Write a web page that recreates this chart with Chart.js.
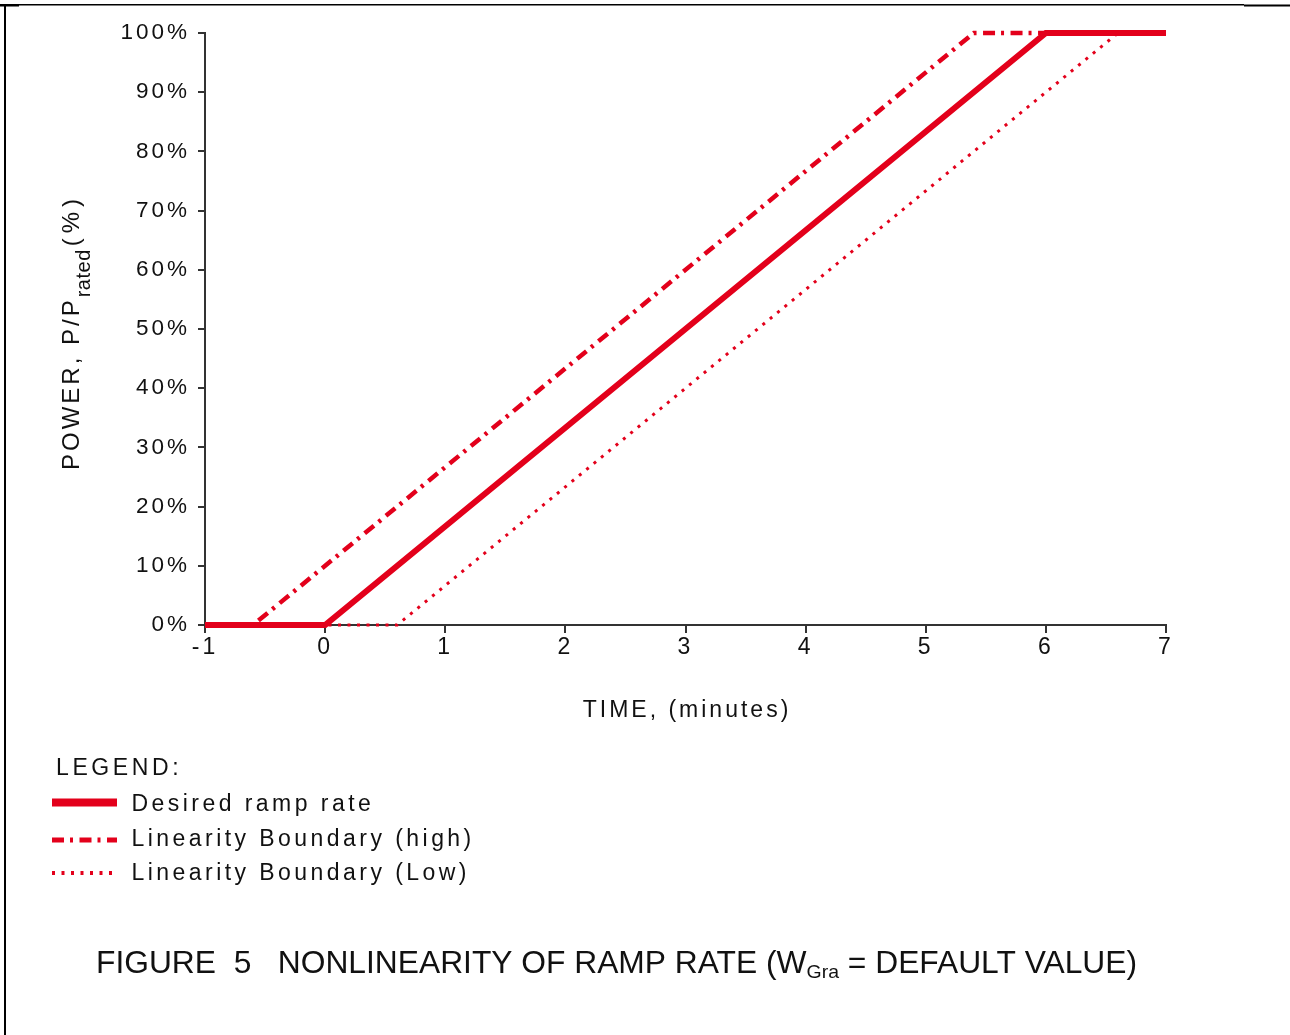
<!DOCTYPE html>
<html>
<head>
<meta charset="utf-8">
<script src="https://cdn.jsdelivr.net/npm/chart.js@4/dist/chart.umd.min.js"></script>
<style>
  html, body { margin: 0; padding: 0; background: #ffffff; }
  #wrap { position: relative; width: 1290px; height: 1035px; }
  canvas { display: block; }
</style>
</head>
<body>
<div id="wrap"><canvas id="ramp" width="1290" height="1035"></canvas></div>
<script>
// Time axis (minutes) and power axis (% of rated) tick values
const timeTicks = [-1, 0, 1, 2, 3, 4, 5, 6, 7];
const powerTicks = [0, 10, 20, 30, 40, 50, 60, 70, 80, 90, 100];

// Desired ramp: 0 % until t = 0, full power after 6 minutes
const desiredTime  = [-1, 0, 6, 7];
const desiredPower = [0, 0, 100, 100];

// Upper linearity boundary (ramp leads by 0.6 min)
const highTime  = [-1, -0.6, 5.4, 7];
const highPower = [0, 0, 100, 100];

// Lower linearity boundary (ramp lags by 0.6 min)
const lowTime  = [-1, 0.6, 6.6, 7];
const lowPower = [0, 0, 100, 100];

const seriesNames = ['Desired ramp rate', 'Linearity Boundary (high)', 'Linearity Boundary (Low)'];

const RED = '#e3001b';
const INK = '#111111';
const AXIS = '#333333';
const FONT = '"Liberation Sans", Arial, Helvetica, sans-serif';

const HIGH_DASH = [12, 6, 3, 6.5];
const LOW_DASH = [3, 6.5];

function pts(xs, ys) { return xs.map((x, i) => ({ x: x, y: ys[i] })); }

// Text helper with letter spacing
function spacedText(ctx, text, x, y, size, spacing, align) {
  ctx.font = size + 'px ' + FONT;
  ctx.letterSpacing = spacing + 'px';
  ctx.textAlign = align || 'left';
  ctx.textBaseline = 'alphabetic';
  ctx.fillText(text, x, y);
  return ctx.measureText(text).width;
}

const decorations = {
  id: 'decorations',
  beforeDraw(chart) {
    // spaced-out lettering for the axis tick labels
    chart.ctx.letterSpacing = '3px';
  },
  afterDraw(chart) {
    const ctx = chart.ctx;
    ctx.save();
    ctx.fillStyle = '#000';
    // page frame
    ctx.fillRect(4, 4, 1240, 1.5);
    ctx.fillRect(0, 4, 19, 2.5);
    ctx.fillRect(1244, 4.5, 46, 2);
    ctx.fillRect(4, 4, 2, 1031);

    ctx.fillStyle = INK;
    // x axis title
    spacedText(ctx, 'TIME, (minutes)', 687, 717, 23, 3, 'center');

    // y axis title with subscript
    ctx.save();
    ctx.translate(79, 470);
    ctx.rotate(-Math.PI / 2);
    let w = spacedText(ctx, 'POWER, P/P', 0, 0, 24, 3, 'left');
    let w2 = spacedText(ctx, 'rated', w, 10.5, 20, 0.5, 'left');
    spacedText(ctx, '(%)', w + w2 + 3, 0, 24, 5, 'left');
    ctx.restore();

    // legend block
    spacedText(ctx, 'LEGEND:', 56, 775, 23, 3.6, 'left');
    const rows = [
      { y: 802.5, base: 810.7, width: 8, dash: [] },
      { y: 840, base: 846, width: 5, dash: HIGH_DASH },
      { y: 873, base: 880, width: 4, dash: LOW_DASH }
    ];
    rows.forEach((r, i) => {
      ctx.save();
      ctx.strokeStyle = RED;
      ctx.lineWidth = r.width;
      ctx.setLineDash(r.dash);
      ctx.beginPath();
      ctx.moveTo(52, r.y);
      ctx.lineTo(117, r.y);
      ctx.stroke();
      ctx.restore();
      ctx.fillStyle = INK;
      spacedText(ctx, seriesNames[i], 131.5, r.base, 23, 3.45, 'left');
    });

    // figure caption (condensed lettering)
    const capMain = 'FIGURE  5   NONLINEARITY OF RAMP RATE (W';
    const capSub = 'Gra';
    const capEnd = ' = DEFAULT VALUE)';
    ctx.letterSpacing = '0px';
    ctx.font = '31px ' + FONT;
    const a = ctx.measureText(capMain).width;
    const c = ctx.measureText(capEnd).width;
    ctx.font = '19px ' + FONT;
    const b = ctx.measureText(capSub).width;
    const sx = 1041 / (a + b + c);
    ctx.save();
    ctx.translate(96, 973);
    ctx.scale(sx, 1);
    ctx.textAlign = 'left';
    ctx.textBaseline = 'alphabetic';
    ctx.font = '31px ' + FONT;
    ctx.fillText(capMain, 0, 0);
    ctx.font = '19px ' + FONT;
    ctx.fillText(capSub, a, 5);
    ctx.font = '31px ' + FONT;
    ctx.fillText(capEnd, a + b, 0);
    ctx.restore();

    ctx.restore();
  }
};

new Chart(document.getElementById('ramp'), {
  type: 'scatter',
  data: {
    datasets: [
      {
        label: seriesNames[0],
        data: pts(desiredTime, desiredPower),
        showLine: true, pointRadius: 0, clip: false,
        borderColor: RED, borderWidth: 6,
        borderCapStyle: 'butt', borderJoinStyle: 'miter'
      },
      {
        label: seriesNames[1],
        data: pts(highTime, highPower),
        showLine: true, pointRadius: 0, clip: false,
        borderColor: RED, borderWidth: 4.5, borderDash: HIGH_DASH
      },
      {
        label: seriesNames[2],
        data: pts(lowTime, lowPower),
        showLine: true, pointRadius: 0, clip: false,
        borderColor: RED, borderWidth: 3, borderDash: LOW_DASH
      }
    ]
  },
  options: {
    responsive: false,
    animation: false,
    devicePixelRatio: 1,
    events: [],
    layout: { padding: { left: 0, right: 124, top: 33, bottom: 0 } },
    plugins: { legend: { display: false }, tooltip: { enabled: false }, title: { display: false } },
    scales: {
      x: {
        type: 'linear', position: 'bottom',
        min: timeTicks[0], max: timeTicks[timeTicks.length - 1],
        afterFit(s) { s.height = 410; },
        afterBuildTicks(s) { s.ticks = timeTicks.map(v => ({ value: v })); },
        ticks: {
          font: { family: FONT, size: 23 }, color: INK, padding: 1,
          maxRotation: 0, autoSkip: false,
          callback: v => String(v)
        },
        grid: { drawOnChartArea: false, drawTicks: true, tickLength: 8, color: AXIS, lineWidth: 2 },
        border: { display: true, color: AXIS, width: 2 }
      },
      y: {
        type: 'linear', position: 'left',
        min: powerTicks[0], max: powerTicks[powerTicks.length - 1],
        afterFit(s) { s.width = 205; },
        afterBuildTicks(s) { s.ticks = powerTicks.map(v => ({ value: v })); },
        ticks: {
          font: { family: FONT, size: 22.5 }, color: INK, padding: 8,
          autoSkip: false,
          callback: v => v + '%'
        },
        grid: { drawOnChartArea: false, drawTicks: true, tickLength: 7, color: AXIS, lineWidth: 2 },
        border: { display: true, color: AXIS, width: 2 }
      }
    }
  },
  plugins: [decorations]
});
</script>
</body>
</html>
